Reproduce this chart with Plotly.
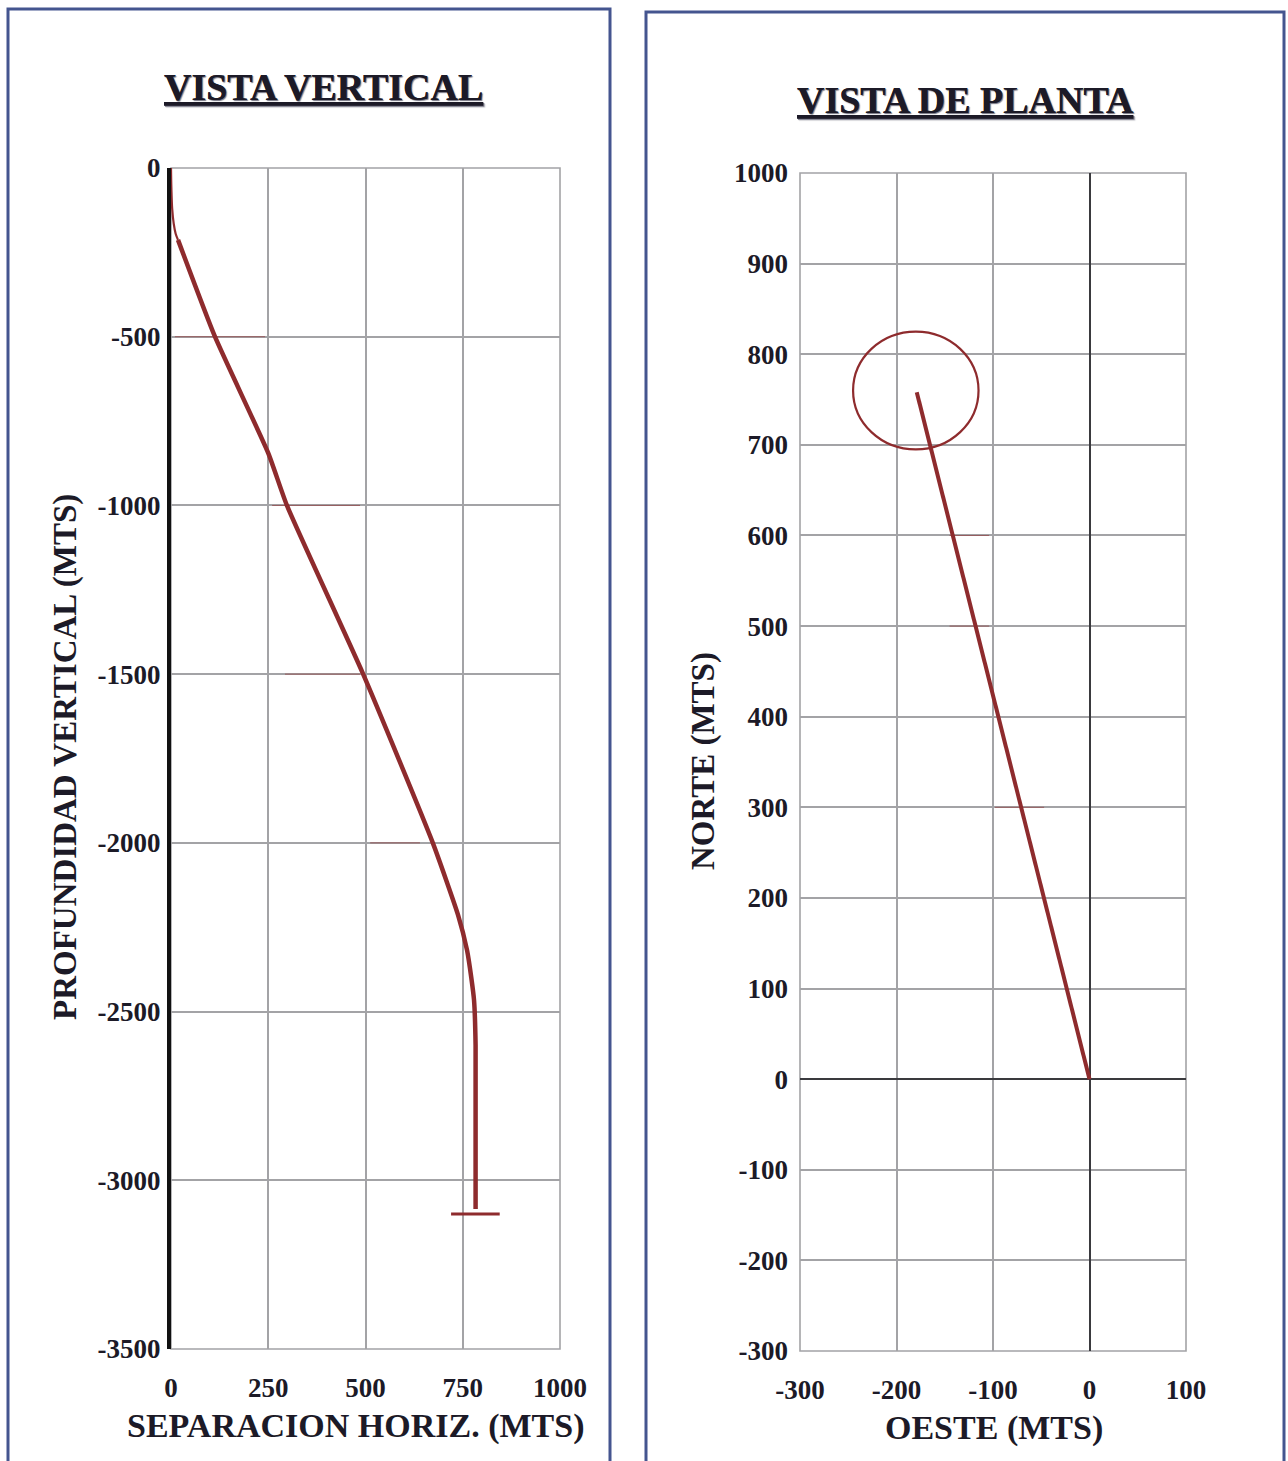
import plotly.graph_objects as go

# ---- Vista vertical: horizontal separation vs. true vertical depth (m) ----
vs_sep_top = [0, 1, 3, 7, 12, 18]
vs_depth_top = [0, -60, -120, -165, -195, -213]

vs_sep = [18, 113, 250, 298, 494, 673, 738, 761, 772, 779, 783, 783]
vs_depth = [-213, -500, -845, -1000, -1500, -2000, -2214, -2318, -2400, -2466, -2600, -3085]

# target marker at total depth
target_sep = [720, 845]
target_depth = [-3100, -3100]

vs_xticks = [0, 250, 500, 750, 1000]
vs_yticks = [0, -500, -1000, -1500, -2000, -2500, -3000, -3500]

# ---- Vista de planta: west vs. north (m) ----
plan_oeste = [0, -179]
plan_norte = [0, 758]

target_center = (-180, 760)
target_radius = 65

plan_xticks = [-300, -200, -100, 0, 100]
plan_yticks = [1000, 900, 800, 700, 600, 500, 400, 300, 200, 100, 0, -100, -200, -300]

# faint red strokes along some grid lines
vs_marks_x = [10, 242, None, 260, 486, None, 293, 486, None, 512, 640]
vs_marks_y = [-500, -500, None, -1000, -1000, None, -1500, -1500, None, -2000, -2000]
plan_marks_x = [-145, -104, None, -145, -104, None, -98, -47]
plan_marks_y = [600, 600, None, 500, 500, None, 300, 300]

W, H = 1288, 1461
RED = "#8e2b2d"
TXT = "#1c1a27"
GRID = "#a3a3a6"
SERIF = "Liberation Serif"


def px_x(p):
    return p / W


def px_y(p):
    return 1 - p / H


def labels(vals):
    # plain hyphen-minus for negative numbers
    return [str(v) for v in vals]


fig = go.Figure()

fig.add_trace(go.Scatter(x=vs_marks_x, y=vs_marks_y, mode="lines",
                         line=dict(color=RED, width=1), opacity=0.6,
                         xaxis="x", yaxis="y", hoverinfo="skip"))
fig.add_trace(go.Scatter(x=vs_sep_top, y=vs_depth_top, mode="lines",
                         line=dict(color=RED, width=2.2, shape="spline"),
                         xaxis="x", yaxis="y"))
fig.add_trace(go.Scatter(x=vs_sep, y=vs_depth, mode="lines",
                         line=dict(color=RED, width=4.5, shape="spline", smoothing=0.5),
                         xaxis="x", yaxis="y"))
fig.add_trace(go.Scatter(x=target_sep, y=target_depth, mode="lines",
                         line=dict(color=RED, width=3),
                         xaxis="x", yaxis="y"))

fig.add_trace(go.Scatter(x=plan_marks_x, y=plan_marks_y, mode="lines",
                         line=dict(color=RED, width=1), opacity=0.6,
                         xaxis="x2", yaxis="y2", hoverinfo="skip"))
fig.add_trace(go.Scatter(x=plan_oeste, y=plan_norte, mode="lines",
                         line=dict(color=RED, width=4),
                         xaxis="x2", yaxis="y2"))

tick_font = dict(family=SERIF, size=27, color=TXT, weight="bold")

fig.update_layout(
    width=W, height=H,
    margin=dict(l=0, r=0, t=0, b=0, autoexpand=False),
    paper_bgcolor="white", plot_bgcolor="white",
    showlegend=False,
    xaxis=dict(domain=[px_x(171), px_x(560)], range=[0, 1000],
               tickvals=vs_xticks, ticktext=labels(vs_xticks),
               showgrid=True, gridcolor=GRID, gridwidth=1.6,
               zeroline=False, showline=False, tickfont=tick_font,
               ticks="", ticklabelstandoff=20, anchor="y", automargin=False),
    yaxis=dict(domain=[px_y(1349), px_y(168)], range=[-3500, 0],
               tickvals=vs_yticks, ticktext=labels(vs_yticks),
               showgrid=True, gridcolor=GRID, gridwidth=1.6,
               zeroline=False, showline=True, linecolor="#111111", linewidth=4,
               tickfont=tick_font, ticks="", ticklabelstandoff=1, anchor="x",
               automargin=False),
    xaxis2=dict(domain=[px_x(800), px_x(1186)], range=[-300, 100],
                tickvals=plan_xticks, ticktext=labels(plan_xticks),
                showgrid=True, gridcolor=GRID, gridwidth=1.6,
                zeroline=True, zerolinecolor="#3a3a3e", zerolinewidth=2,
                showline=False, tickfont=tick_font, ticks="",
                ticklabelstandoff=20, anchor="y2", automargin=False),
    yaxis2=dict(domain=[px_y(1351), px_y(173)], range=[-300, 1000],
                tickvals=plan_yticks, ticktext=labels(plan_yticks),
                showgrid=True, gridcolor=GRID, gridwidth=1.6,
                zeroline=True, zerolinecolor="#3a3a3e", zerolinewidth=2,
                showline=False, tickfont=tick_font, ticks="",
                ticklabelstandoff=11, anchor="x2", automargin=False),
)

# plot-area frames
fig.add_shape(type="rect", xref="x domain", yref="y domain", x0=0, x1=1, y0=0, y1=1,
              line=dict(color=GRID, width=1.6), layer="below")
fig.add_shape(type="rect", xref="x2 domain", yref="y2 domain", x0=0, x1=1, y0=0, y1=1,
              line=dict(color=GRID, width=1.6), layer="below")

# target circle in plan view
cx, cy = target_center
fig.add_shape(type="circle", xref="x2", yref="y2",
              x0=cx - target_radius, x1=cx + target_radius,
              y0=cy - target_radius, y1=cy + target_radius,
              line=dict(color=RED, width=2.2))

# panel borders
BORDER = "#44558f"
fig.add_shape(type="rect", xref="paper", yref="paper",
              x0=px_x(8), x1=px_x(610), y0=-0.05, y1=px_y(9),
              line=dict(color=BORDER, width=3))
fig.add_shape(type="rect", xref="paper", yref="paper",
              x0=px_x(646), x1=px_x(1284), y0=-0.05, y1=px_y(12),
              line=dict(color=BORDER, width=3))

title_font = dict(family=SERIF, size=38, color=TXT, weight="bold",
                  shadow="1px 1px 1px rgba(60,60,80,0.45)")
label_font = dict(family=SERIF, size=34, color=TXT, weight="bold")
common = dict(xref="paper", yref="paper", showarrow=False,
              xanchor="center", yanchor="middle")

fig.add_annotation(text="<u>VISTA VERTICAL</u>", x=px_x(324), y=px_y(87),
                   font=title_font, **common)
fig.add_annotation(text="<u>VISTA DE PLANTA</u>", x=px_x(965), y=px_y(100),
                   font=title_font, **common)

fig.add_annotation(text="SEPARACION HORIZ. (MTS)", x=px_x(355), y=px_y(1426),
                   font=label_font, **common)
fig.add_annotation(text="PROFUNDIDAD VERTICAL (MTS)", x=px_x(65), y=px_y(757),
                   textangle=-90,
                   font=dict(family=SERIF, size=33, color=TXT, weight="bold"),
                   **common)
fig.add_annotation(text="OESTE (MTS)", x=px_x(994), y=px_y(1428),
                   font=label_font, **common)
fig.add_annotation(text="NORTE (MTS)", x=px_x(703), y=px_y(761),
                   textangle=-90,
                   font=dict(family=SERIF, size=33, color=TXT, weight="bold"),
                   **common)

fig.write_html("out.html")
